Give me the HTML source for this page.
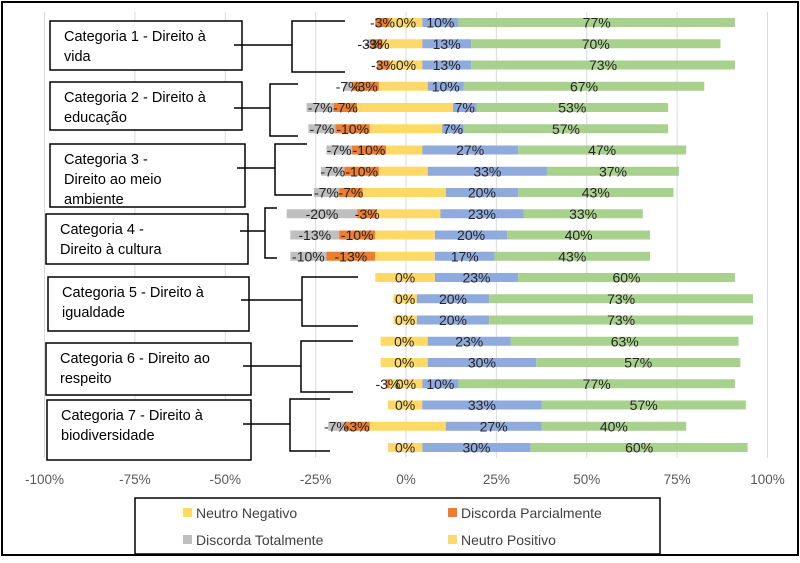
<!DOCTYPE html>
<html><head><meta charset="utf-8"><style>
body{margin:0;background:#fff}
svg text{font-family:"Liberation Sans",sans-serif}
</style></head><body>
<svg id="c" width="800" height="558" xmlns="http://www.w3.org/2000/svg">
<rect x="2" y="2" width="796" height="553" fill="#fff" stroke="#000" stroke-width="2"/>
<g id="grid"></g><g id="bars"></g><g id="labs"></g><g id="cats"></g><g id="axis"></g>
<g>
<rect x="135" y="498" width="525" height="56" fill="#fff" stroke="#000" stroke-width="1.5"/>
<g><rect x="183" y="508" width="9" height="9" fill="#ffd966"/><text x="196" y="518" font-size="14" fill="#404040">Neutro Negativo</text></g>
<g><rect x="448" y="508" width="9" height="9" fill="#ed7d31"/><text x="461" y="518" font-size="14" fill="#404040">Discorda Parcialmente</text></g>
<g><rect x="183" y="535" width="9" height="9" fill="#bfbfbf"/><text x="196" y="545" font-size="14" fill="#404040">Discorda Totalmente</text></g>
<g><rect x="448" y="535" width="9" height="9" fill="#ffd966"/><text x="461" y="545" font-size="14" fill="#404040">Neutro Positivo</text></g>
</g>
</svg>
<script>
const ticks=[-100,-75,-50,-25,0,25,50,75,100];
const DT=[0,1,0,2,7.5,7.5,7,6.5,7,19.5,13.5,10,0,0,0,0,0,0,0,4.5,0];
const DP=[4,3,3.5,7.5,6.5,9.5,9.5,9.5,6.5,5.5,10,13.5,0,0,0,0,0,1,0,7,0];
const NN=[4.5,6.5,4.5,7.5,13.5,10,5.5,7.5,12,8,8.5,8.5,8.5,3.5,3.5,7,7,4.5,5,10,5];
const NP=[4.5,4.5,4.5,6,13,10,4.5,6,11,9.5,8,8,8,3,3,6,6,4.5,4.5,11,4.5];
const CP=[10,13.5,13.5,10,6.5,6,26.5,33,20,23,20,16.5,23,20,20,23,30,10,33,26.5,30];
const CT=[76.5,69,73,66.5,53,56.5,46.5,36.5,43,33,39.5,43,60,73,73,63,56.5,76.5,56.5,40,60];
const labDT=["","-3%","","-7%","-7%","-7%","-7%","-7%","-7%","-20%","-13%","-10%","","","","","","","","-7%",""];
const labDP=["-3%","-3%","-3%","-3%","-7%","-10%","-10%","-10%","-7%","-3%","-10%","-13%","","","","","","-3%","","-3%",""];
const labNP=["0%","","0%","","","","","","","","","","0%","0%","0%","0%","0%","0%","0%","","0%"];
const labCP=["10%","13%","13%","10%","7%","7%","27%","33%","20%","23%","20%","17%","23%","20%","20%","23%","30%","10%","33%","27%","30%"];
const labCT=["77%","70%","73%","67%","53%","57%","47%","37%","43%","33%","40%","43%","60%","73%","73%","63%","57%","77%","57%","40%","60%"];
const cats=[["Categoria 1 - Direito à","vida"],["Categoria 2 - Direito à","educação"],["Categoria 3 -","Direito ao meio","ambiente"],["Categoria 4 -","Direito à cultura"],["Categoria 5 - Direito à","igualdade"],["Categoria 6 - Direito ao","respeito"],["Categoria 7 - Direito à","biodiversidade"]];
const NS="http://www.w3.org/2000/svg";
const X=v=>406+v*3.615, Y=i=>22.5+i*21.25, BH=9;
function mk(t,p,a){const e=document.createElementNS(NS,t);for(const k in a)e.setAttribute(k,a[k]);p.appendChild(e);return e;}
const grid=document.getElementById('grid'),axis=document.getElementById('axis');
ticks.forEach(t=>{
 const l=mk('line',grid,{x1:X(t),x2:X(t),y1:12,y2:458,stroke:'#d9d9d9','stroke-width':1});
 
 
 const tx=mk('text',axis,{x:X(t),y:484,'text-anchor':'middle','font-size':13.5,fill:'#595959'});
 tx.textContent=t+'%';
 
 
});
const bars=document.getElementById('bars'),labs=document.getElementById('labs');
function seg(a,b,y,c,name){const r=mk('rect',bars,{x:X(Math.min(a,b)),y:y-BH/2,width:Math.abs(b-a)*3.615,height:BH,fill:c});
 
 }
function lab(v,txt,y){if(!txt)return;const t=mk('text',labs,{x:X(v),y:y+5,'text-anchor':'middle','font-size':14,fill:'#262626'});t.textContent=txt;
 
 }
for(let i=0;i<CT.length;i++){
 const y=Y(i);
 const a=-NN[i],b=a-DP[i],c=b-DT[i],d=NP[i],e=d+CP[i],f=e+CT[i];
 seg(b,c,y,'#bfbfbf','bar-discorda-totalmente');
 seg(a,b,y,'#ed7d31','bar-discorda-parcialmente');
 seg(0,a,y,'#ffd966','bar-neutro-negativo');
 seg(0,d,y,'#ffd966','bar-neutro-positivo');
 seg(d,e,y,'#8faadc','bar-concorda-parcialmente');
 seg(e,f,y,'#a9d18e','bar-concorda-totalmente');
 lab((b+c)/2,labDT[i],y);lab((a+b)/2,labDP[i],y);lab((a+d)/2,labNP[i],y);lab((d+e)/2,labCP[i],y);lab((e+f)/2,labCT[i],y);
}
const boxes=[[50,21,192,49,45,292,21,72,345,345],[50,82,192,48,108,270,84,136,298,298],[50,144,195,63,168,275,144,195,307,312],[46,214,202,50,231,265,208,258,277,277],[48,277,201,54,300,302,277,326,358,358],[46,343,205,52,366,301,341,392,353,353],[47,400,204,60,424,290,399,451,330,330]];
const cg=document.getElementById('cats');
boxes.forEach((b,i)=>{
 const g=mk('g',cg,{});
 
 
 const r=mk('rect',g,{x:b[0],y:b[1],width:b[2],height:b[3],fill:'#fff',stroke:'#000','stroke-width':1.5});
 
 
 cats[i].forEach((s,j)=>{const t=mk('text',g,{x:b[0]+14,y:b[1]+20+j*20,'font-size':14.5,fill:'#000'});t.textContent=s;});
 const p=mk('path',g,{d:`M${b[0]+b[2]-8} ${b[4]}H${b[5]}M${b[8]} ${b[6]}H${b[5]}V${b[7]}H${b[9]}`,fill:'none',stroke:'#000','stroke-width':1.5});
 
 
});
</script>
</body></html>
